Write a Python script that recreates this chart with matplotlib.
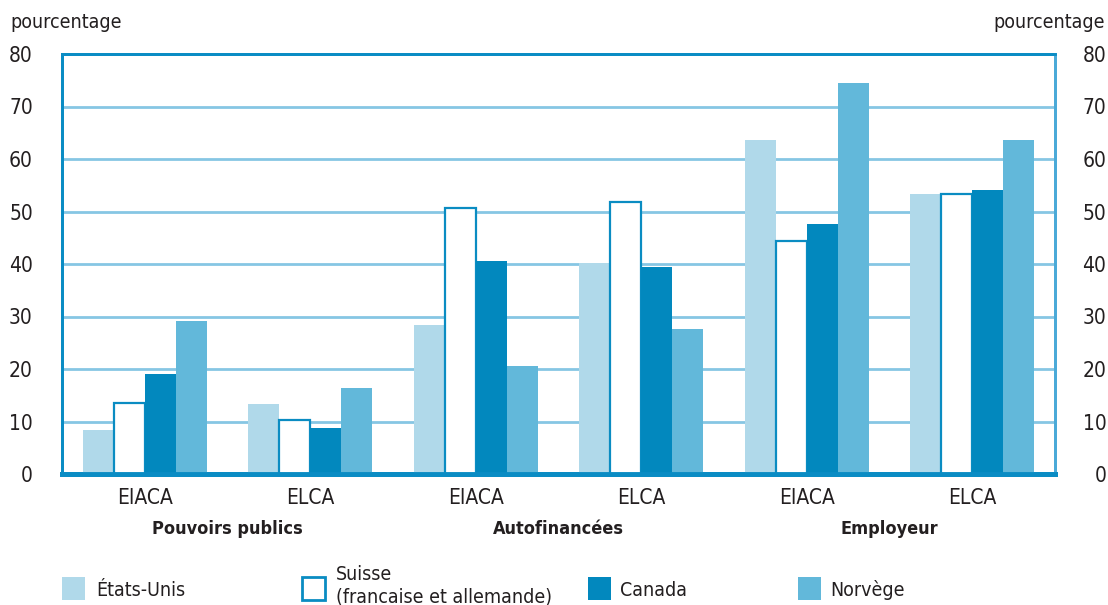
import numpy as np
import matplotlib.pyplot as plt
from matplotlib.patches import Rectangle

# data
sub_labels = ["EIACA", "ELCA", "EIACA", "ELCA", "EIACA", "ELCA"]
groups = ["Pouvoirs publics", "Autofinancées", "Employeur"]
etats_unis = [8.4, 13.3, 28.4, 40.1, 63.6, 53.3]
suisse = [13.6, 10.2, 50.7, 51.8, 44.3, 53.3]
canada = [19.0, 8.7, 40.6, 39.4, 47.6, 54.1]
norvege = [29.1, 16.4, 20.6, 27.6, 74.5, 63.6]
yticks = list(range(0, 81, 10))

c_us = "#b0d9ea"
c_ch_edge = "#0a8cc2"
c_ca = "#0288be"
c_no = "#62b8da"
c_grid = "#86c6e4"
c_spine = "#0a8cc4"
c_text = "#231f20"

plt.rcParams['font.family'] = ['DejaVu Sans']
plt.rcParams['font.stretch'] = 'condensed'

fig = plt.figure(figsize=(11.08, 6.05), dpi=100)
ax = fig.add_axes([62/1108, 1 - 474/605, (1055-62)/1108, (474-54)/605])

x = np.arange(len(sub_labels))
w = 0.187
ax.bar(x - 1.5*w, etats_unis, w, color=c_us, zorder=3)
ax.bar(x - 0.5*w, suisse, w, color="white", edgecolor=c_ch_edge, linewidth=1.6, zorder=3)
ax.bar(x + 0.5*w, canada, w, color=c_ca, zorder=3)
ax.bar(x + 1.5*w, norvege, w, color=c_no, zorder=3)

ax.set_xlim(-0.5, 5.5)
ax.set_ylim(0, 80)
ax.set_yticks(yticks)
ax.yaxis.grid(True, color=c_grid, linewidth=2, zorder=0)
ax.set_xticks(x)
ax.set_xticklabels(sub_labels)
ax.tick_params(axis='both', length=0, labelsize=15, labelcolor=c_text)
ax.tick_params(axis='x', pad=10)
ax.tick_params(axis='y', pad=21)

# right-hand scale
ax2 = ax.twinx()
ax2.set_ylim(0, 80)
ax2.set_yticks(yticks)
ax2.tick_params(axis='y', length=0, labelsize=15, labelcolor=c_text, pad=37)
for lbl in ax2.get_yticklabels():
    lbl.set_horizontalalignment('right')

for a in (ax, ax2):
    for s in a.spines.values():
        s.set_color(c_spine)
        s.set_linewidth(2)
    a.spines['right'].set_color("#4aaad8")
    a.spines['bottom'].set_linewidth(3.5)

# group labels
for i, g in enumerate(groups):
    ax.text(2*i + 0.5, -10.5, g, ha='center', va='center', fontsize=13,
            fontweight='bold', color=c_text)

fig.text(10/1108, 1 - 22/605, "pourcentage", fontsize=14, color=c_text, va='center', ha='left')
fig.text(1105/1108, 1 - 22/605, "pourcentage", fontsize=14, color=c_text, va='center', ha='right')

# legend
leg_items = [
    (62, c_us, None, "États-Unis", 96),
    (302, "white", c_ch_edge, "Suisse\n(francaise et allemande)", 336),
    (588, c_ca, None, "Canada", 620),
    (798, c_no, None, "Norvège", 830),
]
for px, fc, ec, label, tx in leg_items:
    r = Rectangle((px/1108, 1 - 600/605), 23/1108, 23/605, transform=fig.transFigure,
                  facecolor=fc, edgecolor=ec if ec else fc, linewidth=2 if ec else 0)
    fig.add_artist(r)
    if "\n" in label:
        top, bottom = label.split("\n")
        fig.text(tx/1108, 1 - 575/605, top, fontsize=14, color=c_text, va='center')
        fig.text(tx/1108, 1 - 597/605, bottom, fontsize=14, color=c_text, va='center')
    else:
        fig.text(tx/1108, 1 - 590/605, label, fontsize=14, color=c_text, va='center')

fig.savefig("out.png", dpi=100)
